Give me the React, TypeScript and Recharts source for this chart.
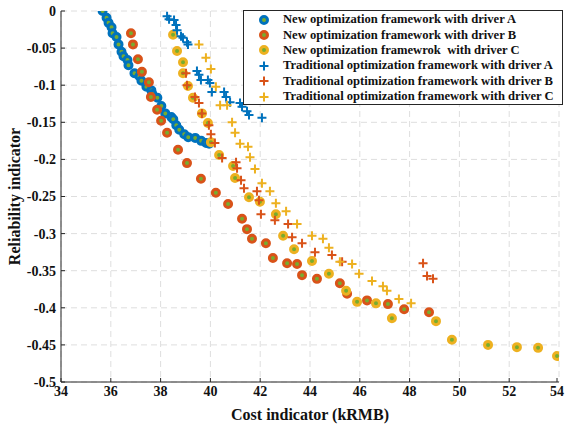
import React from "react";
import { CartesianGrid, Label, Scatter, ScatterChart, XAxis, YAxis } from "recharts";

type Pt = { x: number; y: number };
const toPts = (rows: number[][]): Pt[] => rows.map(([x, y]) => ({ x, y }));

// new optimization framework
const newDriverA = [
  [35.67, 0], [35.83, -0.009], [35.91, -0.016], [36.03, -0.022], [36.07, -0.03],
  [36.23, -0.035], [36.31, -0.045], [36.43, -0.055], [36.51, -0.061], [36.67, -0.066],
  [36.71, -0.073], [36.95, -0.084], [37.15, -0.088], [37.23, -0.094], [37.43, -0.102],
  [37.63, -0.107], [37.67, -0.112], [37.87, -0.117], [38.03, -0.128], [38.19, -0.138],
  [38.43, -0.143], [38.51, -0.146], [38.63, -0.154], [38.75, -0.16], [38.95, -0.166],
  [39.11, -0.17], [39.39, -0.171], [39.63, -0.175], [39.83, -0.178], [39.95, -0.179],
];
const newDriverB = [
  [36.81, -0.03], [36.89, -0.045], [37.09, -0.065], [37.25, -0.082], [37.53, -0.096],
  [37.61, -0.116], [37.86, -0.133], [38.02, -0.148], [38.26, -0.164], [38.7, -0.187],
  [39.06, -0.205], [39.62, -0.226], [40.22, -0.245], [40.71, -0.26], [41.27, -0.28],
  [41.47, -0.294], [41.67, -0.307], [42.23, -0.313], [42.51, -0.333], [43.08, -0.34],
  [43.48, -0.341], [43.68, -0.356], [44.28, -0.361], [45.2, -0.367], [45.49, -0.381],
  [46.29, -0.39], [47.13, -0.395], [47.78, -0.402], [48.78, -0.406],
];
const newDriverC = [
  [38.5, -0.032], [38.66, -0.054], [38.9, -0.069], [38.9, -0.084], [39.1, -0.101],
  [39.3, -0.117], [39.66, -0.138], [39.9, -0.151], [40.02, -0.177], [40.35, -0.194],
  [40.91, -0.209], [40.99, -0.225], [41.55, -0.251], [41.99, -0.257], [42.63, -0.274],
  [42.92, -0.303], [43.36, -0.321], [44.08, -0.337], [44.76, -0.354], [45.45, -0.377],
  [45.89, -0.392], [46.65, -0.394], [47.29, -0.414], [49.06, -0.418], [49.7, -0.443],
  [51.15, -0.45], [52.31, -0.453], [53.16, -0.454], [53.92, -0.465],
];

// traditional optimization framework
const tradDriverA = [
  [38.26, -0.007], [38.34, -0.011], [38.54, -0.012], [38.62, -0.019], [38.66, -0.026],
  [38.82, -0.034], [38.9, -0.036], [39.06, -0.042], [39.1, -0.045], [39.46, -0.081],
  [39.54, -0.086], [39.62, -0.093], [39.9, -0.093], [39.98, -0.097], [40.06, -0.109],
  [40.55, -0.109], [40.63, -0.116], [40.79, -0.123], [41.19, -0.124], [41.27, -0.129],
  [41.47, -0.135], [41.55, -0.14], [42.07, -0.144],
];
const tradDriverB = [
  [39.02, -0.084], [39.06, -0.1], [39.38, -0.116], [39.54, -0.124], [39.66, -0.138],
  [39.94, -0.154], [40.02, -0.166], [40.18, -0.178], [40.47, -0.198], [41.03, -0.204],
  [41.07, -0.212], [41.23, -0.228], [41.35, -0.239], [41.87, -0.243], [41.95, -0.255],
  [42.03, -0.274], [42.59, -0.282], [43.12, -0.287], [43.28, -0.305], [43.68, -0.313],
  [44.2, -0.325], [44.88, -0.329], [45.29, -0.338], [48.54, -0.34], [48.7, -0.357],
  [48.94, -0.361],
];
const tradDriverC = [
  [39.54, -0.045], [39.82, -0.063], [40.02, -0.078], [40.22, -0.102], [40.39, -0.127],
  [40.67, -0.127], [40.87, -0.15], [40.99, -0.164], [41.19, -0.179], [41.51, -0.183],
  [41.59, -0.197], [41.79, -0.213], [42.07, -0.232], [42.39, -0.243], [42.63, -0.259],
  [43.04, -0.27], [43.48, -0.287], [44.08, -0.303], [44.52, -0.307], [44.76, -0.319],
  [45.2, -0.338], [45.69, -0.341], [45.97, -0.354], [46.49, -0.364], [46.93, -0.371],
  [47.09, -0.377], [47.57, -0.388], [48.06, -0.394],
];

const X_TICKS = [34, 36, 38, 40, 42, 44, 46, 48, 50, 52, 54];
const Y_TICKS = [-0.5, -0.45, -0.4, -0.35, -0.3, -0.25, -0.2, -0.15, -0.1, -0.05, 0];

const BLUE = "#0072BD";
const RED = "#D95319";
const YELLOW = "#EDB120";
const GREEN = "#77AC30";
const AXIS = "#262626";
const FONT = "'Liberation Serif', 'Times New Roman', serif";

const series = [
  { name: "New optimization framework with driver A", data: newDriverA, color: BLUE, kind: "circle" },
  { name: "New optimization framework with driver B", data: newDriverB, color: RED, kind: "circle" },
  { name: "New optimization framewrok  with driver C", data: newDriverC, color: YELLOW, kind: "circle" },
  { name: "Traditional optimization framework with driver A", data: tradDriverA, color: BLUE, kind: "plus" },
  { name: "Traditional optimization framework with driver B", data: tradDriverB, color: RED, kind: "plus" },
  { name: "Traditional optimization framework with driver C", data: tradDriverC, color: YELLOW, kind: "plus" },
];

function Marker({ cx, cy, color, kind }: { cx: number; cy: number; color: string; kind: string }) {
  if (kind === "circle") {
    return <circle cx={cx} cy={cy} r={3.5} fill={GREEN} stroke={color} strokeWidth={3} />;
  }
  return (
    <path
      d={`M${cx - 4.5},${cy}H${cx + 4.5}M${cx},${cy - 4.5}V${cy + 4.5}`}
      stroke={color}
      strokeWidth={2}
      fill="none"
    />
  );
}

const TICK_MARGIN = 3;

function XTick(props: any) {
  const { x, y, payload } = props;
  const axisY = y - TICK_MARGIN;
  return (
    <g>
      <line x1={x} x2={x} y1={axisY} y2={axisY - 4} stroke={AXIS} />
      <text x={x} y={y} dy="0.8em" textAnchor="middle" fontFamily={FONT} fontWeight="bold" fontSize={14} fill="#111">
        {payload.value}
      </text>
    </g>
  );
}

function YTick(props: any) {
  const { x, y, payload } = props;
  const axisX = x + 5;
  return (
    <g>
      <line x1={axisX} x2={axisX + 4} y1={y} y2={y} stroke={AXIS} />
      <text x={x} y={y} dy="0.35em" textAnchor="end" fontFamily={FONT} fontWeight="bold" fontSize={14} fill="#111">
        {payload.value === 0 ? "0" : String(payload.value)}
      </text>
    </g>
  );
}

function LegendBox() {
  return (
    <div
      style={{
        position: "absolute",
        left: 243,
        top: 10,
        width: 318,
        height: 92,
        border: `1px solid ${AXIS}`,
        background: "#fff",
        fontFamily: FONT,
        fontWeight: "bold",
        fontSize: 12.6,
        color: "#111",
        paddingTop: 1,
      }}
    >
      {series.map((s) => (
        <div key={s.name} style={{ display: "flex", alignItems: "center", height: 15.4, whiteSpace: "pre" }}>
          <svg width={39} height={14} style={{ flex: "none" }}>
            <Marker cx={20} cy={7} color={s.color} kind={s.kind} />
          </svg>
          <span>{s.name}</span>
        </div>
      ))}
    </div>
  );
}

export default function App() {
  return (
    <div style={{ position: "absolute", left: 0, top: 0, width: 565, height: 427, background: "#fff" }}>
      <ScatterChart width={565} height={427} margin={{ top: 11, right: 6, bottom: 0, left: 0 }}>
        <CartesianGrid strokeDasharray="6 4" stroke="#dedede" />
        <XAxis
          type="number"
          dataKey="x"
          domain={[34, 54]}
          ticks={X_TICKS}
          height={45}
          tickSize={0}
          tickMargin={TICK_MARGIN}
          tickLine={false}
          stroke={AXIS}
          tick={<XTick />}
          allowDataOverflow
        >
          <Label
            value="Cost indicator (kRMB)"
            position="insideBottom"
            offset={7}
            style={{ fontFamily: FONT, fontWeight: "bold", fontSize: 16, fill: "#111" }}
          />
        </XAxis>
        <YAxis
          type="number"
          dataKey="y"
          domain={[-0.5, 0]}
          ticks={Y_TICKS}
          width={61}
          tickSize={0}
          tickMargin={5}
          tickLine={false}
          stroke={AXIS}
          tick={<YTick />}
          allowDataOverflow
        >
          <Label
            value="Reliability indicator"
            angle={-90}
            position="insideLeft"
            offset={14}
            style={{ textAnchor: "middle", fontFamily: FONT, fontWeight: "bold", fontSize: 16, fill: "#111" }}
          />
        </YAxis>
        {series.map((s) => (
          <Scatter
            key={s.name}
            name={s.name}
            data={toPts(s.data)}
            isAnimationActive={false}
            shape={(p: any) => <Marker cx={p.cx} cy={p.cy} color={s.color} kind={s.kind} />}
          />
        ))}
      </ScatterChart>
      <LegendBox />
    </div>
  );
}
